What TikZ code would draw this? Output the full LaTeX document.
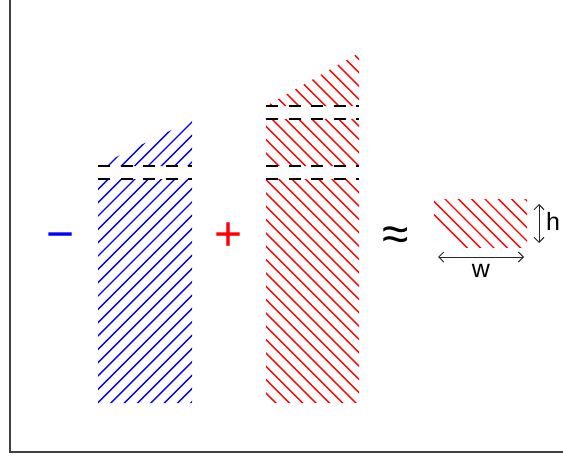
\documentclass[tikz,border=0pt]{standalone}
\usepackage{fontspec}
\setmainfont{Liberation Sans}
\usetikzlibrary{arrows.meta}
\begin{document}
\begin{tikzpicture}[x=1pt,y=-1pt,
  hatchblue/.style={blue, line width=1.4pt},
  hatchred/.style={red, line width=1.4pt},
  dashline/.style={black, line width=2pt, dash pattern=on 12pt off 10.5pt},
  dimarrow/.style={black!85, line width=0.9pt, {Straight Barb[length=5pt,width=10pt]}-{Straight Barb[length=5pt,width=10pt]}},
  sym/.style={font=\fontsize{48}{48}\selectfont, inner sep=0pt, anchor=base},
  lab/.style={font=\fontsize{25}{25}\selectfont, inner sep=0pt, anchor=base}]
\useasboundingbox (0,0) rectangle (563,458);
\fill[white] (0,0) rectangle (563,458);
% frame
\draw[black!75, line width=1.5pt] (10,0) -- (10,452) -- (563,452);
% blue column hatching
\begin{scope}
  \clip (98,403) -- (192,403) -- (192,179) -- (98,179) -- cycle
        (98,166) -- (192,166) -- (192,120) -- cycle;
  \foreach \k in {15,...,46} {\draw[hatchblue] ({7.33+13.333*\k-500},500) -- ({7.33+13.333*\k},0);}
\end{scope}
% red column hatching
\begin{scope}
  \clip (266,403) -- (359,403) -- (359,179) -- (266,179) -- cycle
        (266,166) -- (359,166) -- (359,119) -- (266,119) -- cycle
        (266,106) -- (359,106) -- (359,53) -- cycle;
  \foreach \k in {-12,...,25} {\draw[hatchred] ({6.3+13.333*\k},0) -- ({6.3+13.333*\k+500},500);}
\end{scope}
% small red rectangle hatching
\begin{scope}
  \clip (434,199) rectangle (527,247);
  \foreach \k in {16,...,35} {\draw[hatchred] ({6+13.333*\k},0) -- ({6+13.333*\k+500},500);}
\end{scope}
% dashed lines
\draw[dashline] (98,166) -- (192,166);
\draw[dashline] (98,179) -- (192,179);
\draw[dashline] (266,106) -- (359,106);
\draw[dashline] (266,119) -- (359,119);
\draw[dashline] (266,166) -- (359,166);
\draw[dashline] (266,179) -- (359,179);
% symbols
\node[sym, text=blue] (minus) at (60.5,250) {−};
\node[sym, text=red] (plus) at (229,250) {+};
\node[sym, text=black] (approx) at (396,250) {≈};
% dimension arrows
\coordinate (hTop) at (539,204);
\coordinate (hBot) at (539,243);
\coordinate (wL) at (438,257);
\coordinate (wR) at (524,257);
\draw[dimarrow] (hTop) -- (hBot);
\draw[dimarrow] (wL) -- (wR);
\node[lab] (h) at (553,230) {h};
\node[lab] (w) at (481,277) {w};
\end{tikzpicture}
\end{document}
